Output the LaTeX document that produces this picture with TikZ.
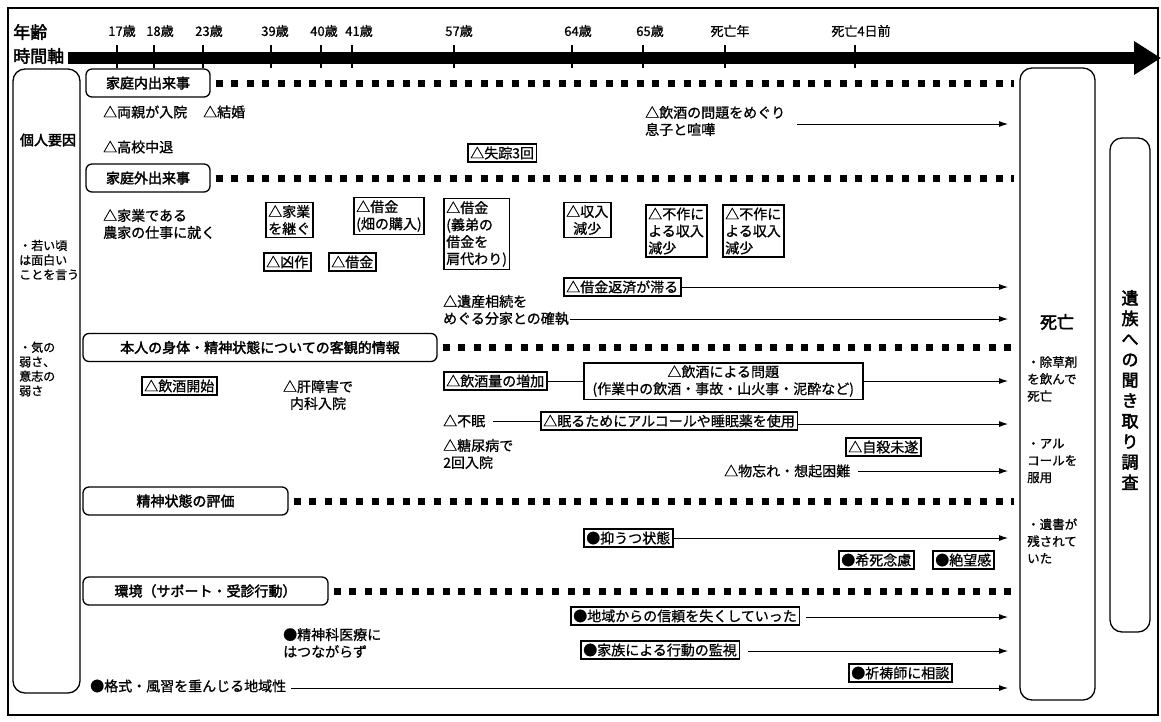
\documentclass[tikz,border=0pt]{standalone}
\usepackage{fontspec}
\setmainfont{Noto Sans CJK JP}[FakeBold=0.9]
\newfontfamily\boldjp{Noto Sans CJK JP}[FakeBold=2.4]
\usetikzlibrary{arrows.meta}
\newcommand\ftxt{\fontsize{14}{17}\selectfont}
\newcommand\fcat{\boldjp\fontsize{14}{17}\selectfont}
\newcommand\fleft{\fontsize{12}{14.5}\selectfont}
\newcommand\fhead{\boldjp\fontsize{17}{20}\selectfont}
\newcommand\fage{\fontsize{13}{15}\selectfont}
\newcommand\fside{\fontsize{12.5}{17}\selectfont}
\newcommand\fdeath{\boldjp\fontsize{17}{20}\selectfont}
\newcommand\fvert{\boldjp\fontsize{17}{20.5}\selectfont}
\begin{document}
\begin{tikzpicture}[x=1pt,y=-1pt,
  every node/.style={font=\ftxt, inner sep=0pt},
  txt/.style={anchor=west, align=left},
  evbox/.style={draw, line width=1.5pt, anchor=west, align=left, inner xsep=2.5pt, inner ysep=2.5pt},
  cat/.style={draw, line width=1.3pt, rounded corners=6pt, minimum height=28pt, font=\fcat},
  panel/.style={draw, line width=1.3pt, rounded corners=12pt},
  arr/.style={line width=0.9pt, -{Latex[length=9pt,width=6pt]}},
  ln/.style={line width=0.9pt},
  dots/.style={line width=7pt, dash pattern=on 7pt off 8.6pt},
  tickln/.style={line width=1.4pt},
  age/.style={font=\fage}
]
\useasboundingbox (0,0) rectangle (1161,721);
\draw[line width=1.2pt] (8,8) rectangle (1158,715);

% header
\node[font=\fhead, anchor=west] (nenrei) at (13,32) {年齢};
\node[font=\fhead, anchor=west] (jikan) at (13,56) {時間軸};
\coordinate (axS) at (68,58);
\coordinate (axE) at (1161,58);
\draw[line width=11.5pt, -{Triangle[length=27pt,width=32pt]}] (axS) -- (axE);

\foreach \nm/\lx/\tx/\lab in {a17/122/117/17歳, a18/160/154/18歳, a23/209/203/23歳, a39/275/271/39歳, a40/324/321/40歳, a41/359/352/41歳, a57/459/454/57歳, a64/578/572/64歳, a65/650/643/65歳, ad/730/725/死亡年, ad4/861/855/死亡4日前}{
  \node[age] (\nm) at (\lx,31) {\lab};
  \draw[tickln] (\tx,45) -- (\tx,68);
}

% side panels
\node[panel, minimum width=67pt, minimum height=624pt] (kojin) at (46.5,381) {};
\node[font=\fcat] (kojinT) at (48,140) {個人要因};
\node[txt, font=\fleft] (w1) at (19,260) {・若い頃\\は面白い\\ことを言う};
\node[txt, font=\fleft] (w2) at (19,369) {・気の\\弱さ、\\意志の\\弱さ};

\node[panel, minimum width=75pt, minimum height=632pt] (shibou) at (1057.5,384) {};
\node[font=\fdeath] (shiT) at (1057,322) {死亡};
\node[txt, font=\fside] (s1) at (1027,379) {・除草剤\\を飲んで\\死亡};
\node[txt, font=\fside] (s2) at (1027,461) {・アル\\コールを\\服用};
\node[txt, font=\fside] (s3) at (1027,541) {・遺書が\\残されて\\いた};

\node[panel, minimum width=40pt, minimum height=494pt] (izoku) at (1130,385) {};
\node[font=\fvert, align=center] (izokuT) at (1130,390) {遺\\族\\へ\\の\\聞\\き\\取\\り\\調\\査};

% category boxes and dotted lines
\coordinate (dend) at (1014,0);
\node[cat, minimum width=124pt] (c1) at (148,83) {家庭内出来事};
\node[cat, minimum width=124pt] (c2) at (148,178) {家庭外出来事};
\node[cat, minimum width=354pt] (c3) at (260,347.5) {本人の身体・精神状態についての客観的情報};
\node[cat, minimum width=205pt] (c4) at (185.5,501) {精神状態の評価};
\node[cat, minimum width=245pt] (c5) at (205.5,591) {環境（サポート・受診行動）};
\foreach \c in {c1,c2,c3,c4,c5}{
  \draw[dots] ([xshift=5pt]\c.east) -- (\c.east -| dend);
}

% family events
\node[txt] (r1) at (103,112) {△両親が入院};
\node[txt] (r2) at (203,112) {△結婚};
\node[txt] (r3) at (103,147) {△高校中退};
\node[txt] (r4) at (645,121) {△飲酒の問題をめぐり\\息子と喧嘩};
\coordinate (e4) at (1008,124);
\draw[arr] ([xshift=12pt]r4.east |- e4) -- (e4);
\node[evbox] (b1) at (467,153) {△失踪3回};

% outside events
\node[txt] (r5) at (103,224) {△家業である\\農家の仕事に就く};
\node[evbox] (b2) at (265,220) {△家業\\を継ぐ};
\node[evbox] (b3) at (353,216) {△借金\\(畑の購入)};
\node[evbox] (b4) at (443,234) {△借金\\(義弟の\\借金を\\肩代わり)};
\node[evbox, align=center] (b5) at (563,220) {△収入\\減少};
\node[evbox] (b6) at (645,231) {△不作に\\よる収入\\減少};
\node[evbox] (b7) at (722,231) {△不作に\\よる収入\\減少};
\node[evbox] (b8) at (263,262) {△凶作};
\node[evbox] (b9) at (328,262) {△借金};
\node[evbox] (b10) at (563,287) {△借金返済が滞る};
\coordinate (e10) at (1008,287);
\draw[arr] (b10.east) -- (e10);
\node[txt] (r6) at (443,310) {△遺産相続を\\めぐる分家との確執};
\coordinate (e6) at (1008,319);
\draw[arr] ([xshift=1pt]r6.east |- e6) -- (e6);

% body / mind objective info
\node[evbox] (b11) at (141,386) {△飲酒開始};
\node[align=center] (r7) at (318,395) {△肝障害で\\内科入院};
\node[evbox] (b12) at (443,381) {△飲酒量の増加};
\node[evbox, align=center, minimum width=279pt] (b13) at (583,381) {△飲酒による問題\\(作業中の飲酒・事故・山火事・泥酔など)};
\draw[ln] (b12.east) -- (b13.west);
\coordinate (e13) at (1008,381);
\draw[arr] (b13.east) -- (e13);
\node[txt] (r8) at (443,421) {△不眠};
\node[evbox] (b14) at (540,421) {△眠るためにアルコールや睡眠薬を使用};
\draw[ln] ([xshift=8pt]r8.east) -- (b14.west);
\coordinate (e14) at (1008,424);
\draw[arr] (b14.east |- e14) -- (e14);
\node[evbox] (b15) at (845,447) {△自殺未遂};
\node[txt] (r9) at (443,454) {△糖尿病で\\2回入院};
\node[txt] (r10) at (724,471) {△物忘れ・想起困難};
\coordinate (e10b) at (1008,471);
\draw[arr] ([xshift=8pt]r10.east) -- (e10b);

% mental state evaluation
\node[evbox] (b16) at (583,538) {●抑うつ状態};
\coordinate (e16) at (1008,538);
\draw[arr] (b16.east) -- (e16);
\node[evbox] (b17) at (838,560) {●希死念慮};
\node[evbox] (b18) at (932,560) {●絶望感};

% environment
\node[evbox] (b19) at (570,616) {●地域からの信頼を失くしていった};
\coordinate (e19) at (1008,617);
\draw[arr] ([xshift=6pt]b19.east |- e19) -- (e19);
\node[txt] (r11) at (283,643) {●精神科医療に\\はつながらず};
\node[evbox] (b20) at (580,650) {●家族による行動の監視};
\coordinate (e20) at (1008,651);
\draw[arr] ([xshift=8pt]b20.east |- e20) -- (e20);
\node[evbox] (b21) at (848,673) {●祈祷師に相談};
\node[txt] (r12) at (90,686) {●格式・風習を重んじる地域性};
\coordinate (e12) at (1008,688);
\draw[arr] ([xshift=5pt]r12.east |- e12) -- (e12);
\end{tikzpicture}
\end{document}
